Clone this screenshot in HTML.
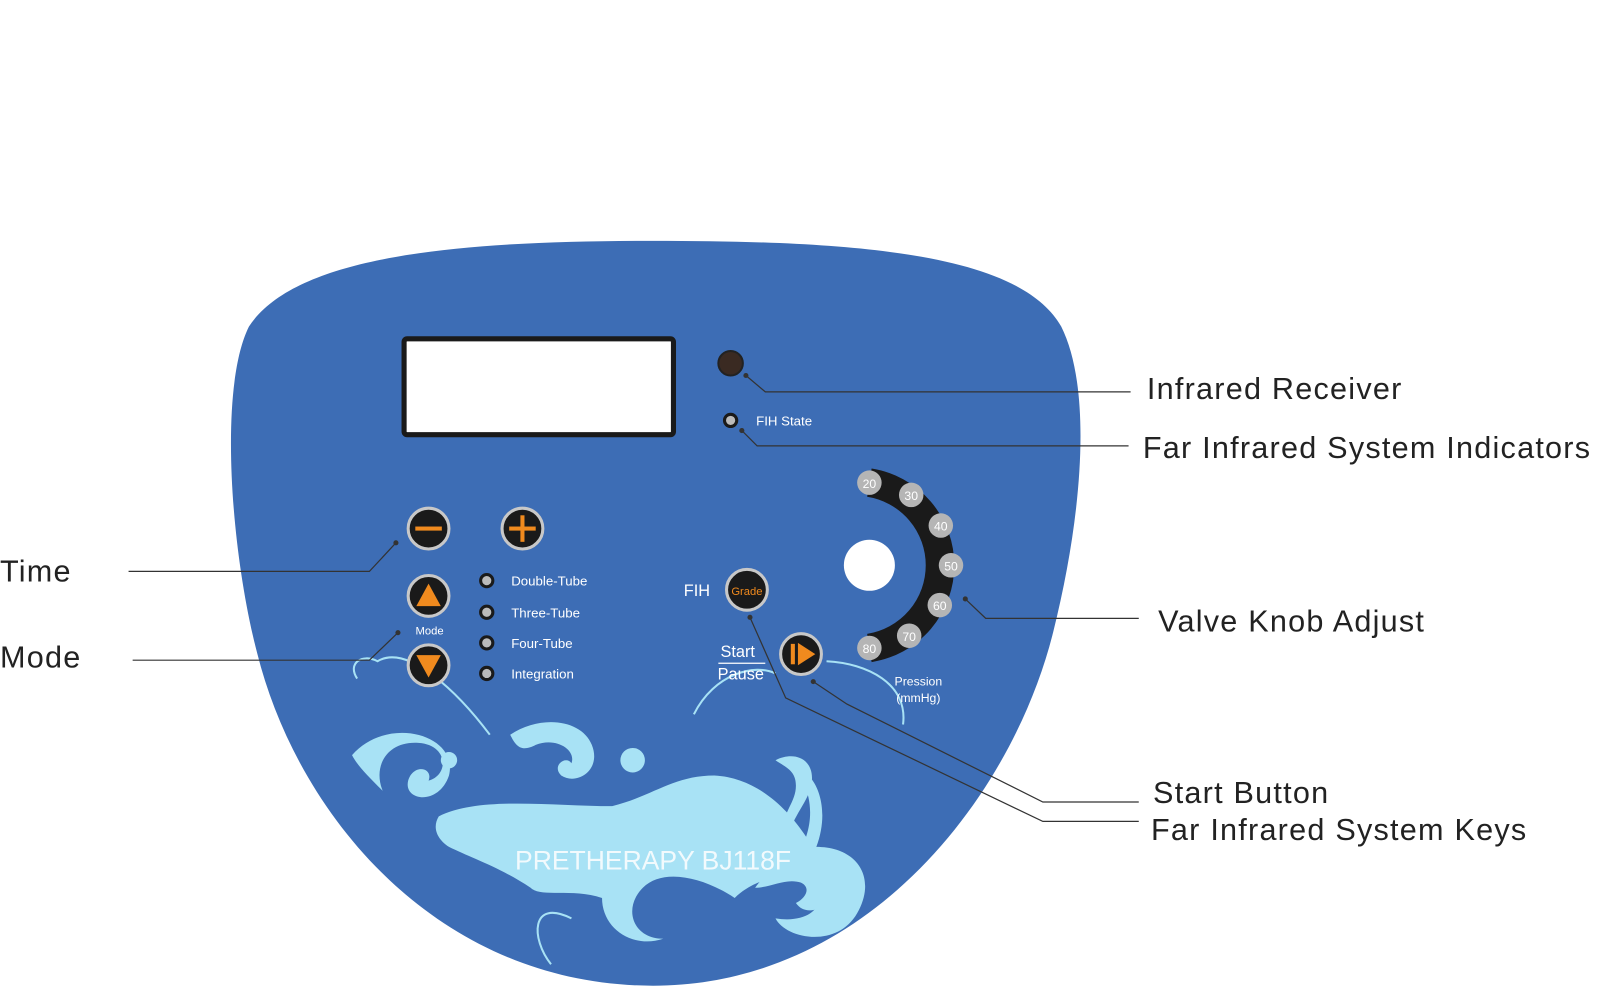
<!DOCTYPE html>
<html><head><meta charset="utf-8"><style>
html,body{margin:0;padding:0;background:#fff;}
svg{display:block;}
.s{font-family:"Liberation Sans",sans-serif;}
.big{font-family:"Liberation Sans",sans-serif;font-size:30px;letter-spacing:1.2px;fill:#222;}
</style></head><body>
<svg width="1600" height="1008" viewBox="0 0 1600 1008" xmlns="http://www.w3.org/2000/svg">
<g transform="scale(1.0204)">
<path d="M640 236 C850 236,1000 250,1040 320 C1070 380,1062 500,1032 620 C992 780,850 966,640 966 C430 966,292 800,252 640 C226 540,214 380,244 320 C290 250,450 236,640 236 Z" fill="#3d6db5"/>
<g fill="#a8e2f5" stroke="none">
<path d="M345 740 C380 700,450 720,440 760 C430 790,395 785,400 765 C405 748,425 752,420 765 C440 760,440 730,410 728 C380 726,365 750,375 775 C360 760,350 750,345 740Z"/>
<path d="M430 800 C470 780,540 790,600 790 C640 780,660 760,700 760 C740 762,770 790,790 820 C800 790,790 760,770 748 C800 752,815 790,800 830 C840 830,860 860,840 895 C820 930,770 920,760 900 C790 905,810 890,800 870 C780 850,740 860,720 880 C690 860,650 850,630 870 C610 890,620 920,650 920 C620 930,590 910,590 880 C560 870,530 880,520 870 C490 850,460 840,440 830 C425 820,425 808,430 800Z"/>
<path d="M500 720 C530 700,570 705,580 730 C590 755,565 770,550 760 C540 750,555 740,560 748 C565 735,545 722,525 730 C510 738,505 730,500 720Z"/>
<circle cx="620" cy="745" r="12"/>
<circle cx="440" cy="745" r="8"/>
<path d="M740 870 C760 840,800 845,810 870 C815 890,790 900,780 885 C790 880,795 870,785 865 C770 860,755 870,740 870Z"/>
<path d="M760 745 C780 735,800 745,795 770 C790 790,775 800,770 830 C760 800,780 790,780 770 C780 755,770 752,760 745Z"/>
</g>
<g fill="none" stroke="#a8e2f5" stroke-width="2">
<path d="M350 665 C340 650,355 640,370 648 C400 630,450 680,480 720"/>
<path d="M680 700 C700 660,740 650,760 660"/>
<path d="M810 648 C850 650,890 670,885 710"/>
<path d="M560 900 C520 880,520 920,540 945"/>
</g>
<text class="s" x="640" y="852" text-anchor="middle" font-size="26" fill="#fff" opacity="0.85">PRETHERAPY BJ118F</text>
<rect x="396" y="332" width="264" height="94" rx="3" fill="#fff" stroke="#1a1a1a" stroke-width="5"/>
<circle cx="716" cy="356" r="12" fill="#3a2a22" stroke="#222" stroke-width="2"/>
<circle cx="716" cy="412" r="6" fill="#bbb" stroke="#1a1a1a" stroke-width="3"/>
<text class="s" x="741" y="417" font-size="13" fill="#fff">FIH State</text>
<g stroke="#c8c8c8" stroke-width="3" fill="#1a1a1a">
<circle cx="420" cy="518" r="20"/><circle cx="512" cy="518" r="20"/>
<circle cx="420" cy="584" r="20"/><circle cx="420" cy="652" r="20"/>
<circle cx="732" cy="578" r="20"/><circle cx="785" cy="641" r="20"/>
</g>
<g fill="#f08a1e">
<rect x="407" y="516" width="26" height="4"/>
<rect x="499" y="516" width="26" height="4"/><rect x="510" y="505" width="4" height="26"/>
<polygon points="420,572 432,594 408,594"/>
<polygon points="420,664 432,642 408,642"/>
<rect x="775" y="631" width="4" height="20"/><polygon points="782,630 799,641 782,652"/>
</g>
<text class="s" x="732" y="583" font-size="11" fill="#f08a1e" text-anchor="middle">Grade</text>
<text class="s" x="683" y="584" font-size="16" fill="#fff" text-anchor="middle">FIH</text>
<text class="s" x="421" y="622" font-size="11" fill="#fff" text-anchor="middle">Mode</text>
<text class="s" x="723" y="644" font-size="16" fill="#fff" text-anchor="middle">Start</text>
<line x1="704" y1="650" x2="750" y2="650" stroke="#fff" stroke-width="1.2"/>
<text class="s" x="726" y="666" font-size="16" fill="#fff" text-anchor="middle">Pause</text>
<g fill="#bbb" stroke="#1a1a1a" stroke-width="3">
<circle cx="477" cy="569" r="6"/><circle cx="477" cy="600" r="6"/><circle cx="477" cy="630" r="6"/><circle cx="477" cy="660" r="6"/>
</g>
<g class="s" font-size="13" fill="#fff">
<text x="501" y="574">Double-Tube</text><text x="501" y="605">Three-Tube</text><text x="501" y="635">Four-Tube</text><text x="501" y="665">Integration</text>
</g>
<path d="M852 473 A82 82 0 0 1 852 635" fill="none" stroke="#1a1a1a" stroke-width="28"/>
<circle cx="852" cy="554" r="25" fill="#fff"/>
<g fill="#b5b5b5">
<circle cx="852" cy="473" r="12"/><circle cx="893" cy="485" r="12"/><circle cx="922" cy="515" r="12"/><circle cx="932" cy="554" r="12"/><circle cx="921" cy="593" r="12"/><circle cx="891" cy="623" r="12"/><circle cx="852" cy="635" r="12"/>
</g>
<g class="s" font-size="12" fill="#fff" text-anchor="middle">
<text x="852" y="478">20</text><text x="893" y="490">30</text><text x="922" y="520">40</text><text x="932" y="559">50</text><text x="921" y="598">60</text><text x="891" y="628">70</text><text x="852" y="640">80</text>
</g>
<text class="s" x="900" y="672" font-size="12" fill="#fff" text-anchor="middle">Pression</text>
<text class="s" x="900" y="688" font-size="12" fill="#fff" text-anchor="middle">(mmHg)</text>
<g fill="none" stroke="#333" stroke-width="1.2">
<polyline points="731,368 750,384 1108,384"/>
<polyline points="727,422 742,437 1106,437"/>
<polyline points="946,587 966,606 1116,606"/>
<polyline points="388,532 362,560 126,560"/>
<polyline points="390,620 362,647 130,647"/>
<polyline points="797,668 830,690 1022,786 1116,786"/>
<polyline points="735,605 770,684 1022,805 1116,805"/>
</g>
<g fill="#333"><circle cx="731" cy="368" r="2.5"/><circle cx="727" cy="422" r="2.5"/><circle cx="946" cy="587" r="2.5"/><circle cx="388" cy="532" r="2.5"/><circle cx="390" cy="620" r="2.5"/><circle cx="797" cy="668" r="2.5"/><circle cx="735" cy="605" r="2.5"/></g>
<text class="big" x="1124" y="391">Infrared Receiver</text>
<text class="big" x="1120" y="449">Far Infrared System Indicators</text>
<text class="big" x="1135" y="619">Valve Knob Adjust</text>
<text class="big" x="1130" y="787">Start Button</text>
<text class="big" x="1128" y="823">Far Infrared System Keys</text>
<text class="big" x="0" y="570">Time</text>
<text class="big" x="0" y="654">Mode</text>
</g>
</svg>
</body></html>
